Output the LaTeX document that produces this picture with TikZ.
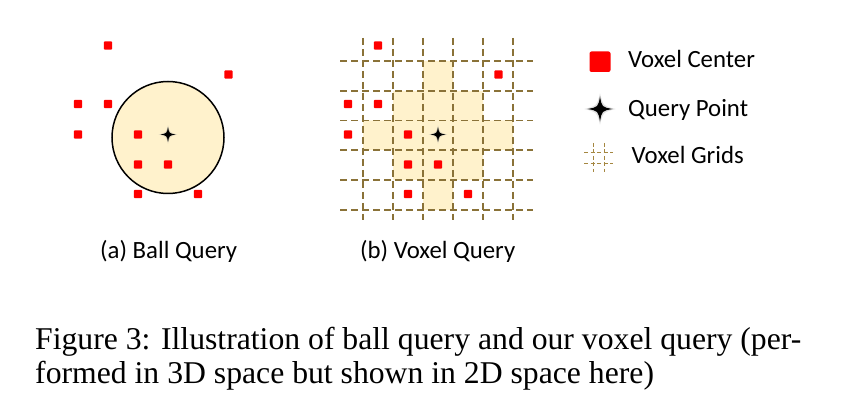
\documentclass[tikz,border=0pt]{standalone}
\usepackage{fontspec}
\setmainfont{Liberation Serif}
\newfontfamily\calibri{Carlito}
\definecolor{vred}{RGB}{255,0,0}
\definecolor{cream}{RGB}{255,242,204}
\definecolor{gridc}{RGB}{138,114,56}
\definecolor{gridl}{RGB}{165,135,65}
\tikzset{
  vc/.style={fill=vred, rounded corners=1pt},
  gridline/.style={draw=gridc, line width=1.15pt, dash pattern=on 7pt off 4pt},
  iconline/.style={draw=gridl, line width=1.3pt, dash pattern=on 4pt off 2.5pt},
  lbl/.style={font=\calibri\fontsize{24.8}{28}\selectfont, inner sep=0pt, anchor=base west},
  captext/.style={font=\fontsize{31.7}{34}\selectfont, inner sep=0pt, anchor=base west},
  qstar/.pic={
    \fill[black!35, opacity=0.35] (0,-1.25) .. controls (0.25,-0.25) .. (1.25,0) .. controls (0.25,0.25) .. (0,1.25) .. controls (-0.25,0.25) .. (-1.25,0) .. controls (-0.25,-0.25) .. cycle;
    \fill[black] (0,-1) .. controls (0.15,-0.15) .. (1,0) .. controls (0.15,0.15) .. (0,1) .. controls (-0.15,0.15) .. (-1,0) .. controls (-0.15,-0.15) .. cycle;
  }
}
\newcommand\vsq[2]{\fill[vc] ({#1-4.2},{#2-4.2}) rectangle ({#1+4.2},{#2+4.2});}
\begin{document}
\begin{tikzpicture}[x=1pt,y=-1pt]
\fill[white] (0,0) rectangle (863,406);
\useasboundingbox (0,0) rectangle (863,406);

% (a) ball query
\draw[black, line width=1.5pt, fill=cream] (168,137.5) circle[radius=56pt];
\foreach \px/\py in {108/45.5, 228.5/74.5, 78/104, 108/104, 78/134.5, 138/134.5, 138/164.5, 168/164.5, 138/194, 198/194}
  {\vsq{\px}{\py}}
\pic[scale=7.5] (sa) at (168,134.5) {qstar};
\node[lbl] (capa) at (100,259) {(a) Ball Query};

% (b) voxel query
\fill[cream] (423,61) -- (453,61) -- (453,91) -- (483,91) -- (483,120.5) -- (513,120.5) -- (513,150) -- (483,150) -- (483,180) -- (453,180) -- (453,210) -- (423,210) -- (423,180) -- (393,180) -- (393,150) -- (363,150) -- (363,120.5) -- (393,120.5) -- (393,91) -- (423,91) -- cycle;
\foreach \gx in {363,393,423,453,483,513}
  {\draw[gridline] (\gx,38) -- (\gx,220);}
\foreach \gy in {61,91,120.5,150,180,210}
  {\draw[gridline] (340,\gy) -- (533,\gy);}
\foreach \px/\py in {108/45.5, 228.5/74.5, 78/104, 108/104, 78/134.5, 138/134.5, 138/164.5, 168/164.5, 138/194, 198/194}
  {\vsq{\px+270}{\py}}
\pic[scale=7.5] (sb) at (438,134.5) {qstar};
\node[lbl] (capb) at (360,259) {(b) Voxel Query};

% legend
\fill[vc, rounded corners=2pt] (589.5,51.5) rectangle (610.5,72);
\node[lbl] (l1) at (628,68) {Voxel Center};
\pic[scale=12.5] (sl) at (600,109) {qstar};
\node[lbl] (l2) at (628,117) {Query Point};
\draw[iconline] (593.5,143) -- (593.5,172);
\draw[iconline] (604.5,143) -- (604.5,172);
\draw[iconline] (584,152.5) -- (613,152.5);
\draw[iconline] (584,163.5) -- (613,163.5);
\node[lbl] (l3) at (631.5,164) {Voxel Grids};

% caption
\node[captext] (c1) at (35,350) {Figure 3: Illustration of ball query and our voxel query (per-};
\node[captext] (c2) at (35,384) {formed in 3D space but shown in 2D space here)};
\end{tikzpicture}
\end{document}
